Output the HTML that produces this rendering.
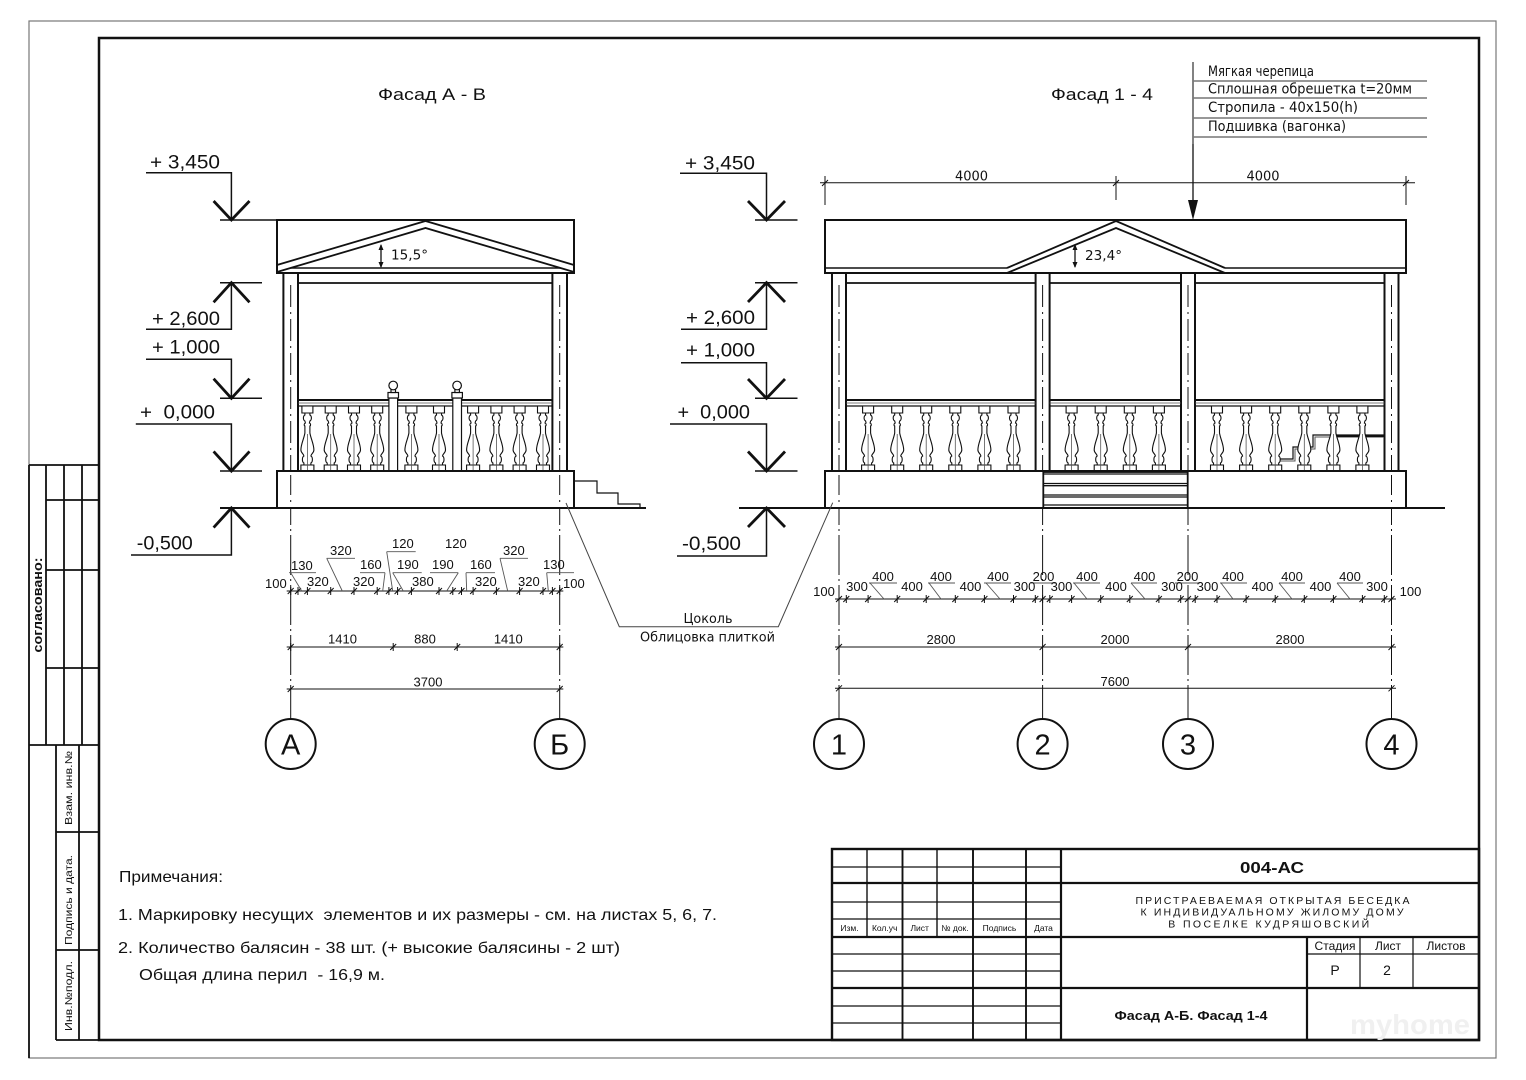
<!DOCTYPE html>
<html><head><meta charset="utf-8"><style>
html,body{margin:0;padding:0;background:#fff;}
svg{display:block;}
text{font-family:"Liberation Sans","DejaVu Sans",sans-serif;fill:#111;}
.v{font-family:"DejaVu Sans","Liberation Sans",sans-serif;}
</style></head><body>
<svg width="1526" height="1080" viewBox="0 0 1526 1080" xmlns="http://www.w3.org/2000/svg">
<defs>
<g id="bal">
<path d="M5.5,0 V7 H2.5 V9 C4.5,10 4.5,14 2.5,15 L2,17 C3.5,17.5 3.5,19.5 2.5,20 L2.5,27 C3.5,33 6.5,38 6.5,44 C6.5,47 3.5,48 3.5,50 C5.5,51 5.5,56 3.5,57 L3.5,59 H6.5 V65 H-6.5 V59 H-3.5 L-3.5,57 C-5.5,56 -5.5,51 -3.5,50 C-3.5,48 -6.5,47 -6.5,44 C-6.5,38 -3.5,33 -2.5,27 L-2.5,20 C-3.5,19.5 -3.5,17.5 -2,17 L-2.5,15 C-4.5,14 -4.5,10 -2.5,9 V7 H-5.5 V0 Z" fill="#fff" stroke="#111" stroke-width="1.1"/>
<path d="M-5.5,7H5.5M-6.5,59H6.5" fill="none" stroke="#111" stroke-width="1"/>
<path d="M0,28V70" fill="none" stroke="#555" stroke-width="0.8"/>
</g>
</defs>
<rect x="0" y="0" width="1526" height="1080" fill="#fff"/>

<!-- frames -->
<rect x="29" y="21" width="1467" height="1037" fill="none" stroke="#777" stroke-width="1.2"/>
<rect x="99" y="38" width="1380" height="1002" fill="none" stroke="#111" stroke-width="2.5"/>

<!-- left strip -->
<g stroke="#111" stroke-width="1.8" fill="none">
<path d="M29,465H99M29,745H99M46,465V745M64,465V745M82,465V745M46,500H99M46,570H99M46,668H99"/>
<path d="M56,745V1040M79,745V1040M56,832H99M56,950H99M56,1040H99M29,465V1058"/>
</g>
<text transform="translate(42,605) rotate(-90)" text-anchor="middle" font-size="13" font-weight="bold" textLength="95" lengthAdjust="spacingAndGlyphs">согласовано:</text>
<text transform="translate(72,788) rotate(-90)" text-anchor="middle" font-size="10" textLength="74" lengthAdjust="spacingAndGlyphs">Взам. инв.№</text>
<text transform="translate(72,900) rotate(-90)" text-anchor="middle" font-size="10" textLength="90" lengthAdjust="spacingAndGlyphs">Подпись и дата.</text>
<text transform="translate(72,996) rotate(-90)" text-anchor="middle" font-size="10" textLength="70" lengthAdjust="spacingAndGlyphs">Инв.№подл.</text>

<!-- titles -->
<text x="378" y="100" font-size="17" textLength="108" lengthAdjust="spacingAndGlyphs">Фасад А - В</text>
<text x="1051" y="100" font-size="17" textLength="102" lengthAdjust="spacingAndGlyphs">Фасад 1 - 4</text>

<!-- ========== LEFT FACADE ========== -->
<g stroke="#111" fill="none">
<path d="M290.7,285V719M559.7,285V719" stroke-width="1" stroke-dasharray="40,4,2,4"/>
<rect x="277" y="220" width="297" height="53" stroke-width="2"/>
<polyline points="277,265 425.5,221 574,265" stroke-width="1.8"/>
<polyline points="277,272 425.5,228 574,272" stroke-width="1.8"/>
<line x1="290.5" y1="268" x2="560.5" y2="268" stroke-width="1.5"/>
<rect x="283.4" y="273" width="14.6" height="198" stroke-width="2" fill="#fff"/>
<rect x="552.4" y="273" width="14.6" height="198" stroke-width="2" fill="#fff"/>
<path d="M290.7,285V505M559.7,285V505" stroke-width="1" stroke-dasharray="22,5,2,5"/>
<line x1="298" y1="283" x2="552.4" y2="283" stroke-width="1.8"/>
<line x1="298" y1="400" x2="552.4" y2="400" stroke-width="2"/>
<line x1="298" y1="403" x2="552.4" y2="403" stroke-width="0.8" stroke="#555"/>
<line x1="298" y1="406" x2="552.4" y2="406" stroke-width="1.2"/>
</g>
<use href="#bal" x="307.4" y="406"/><use href="#bal" x="330.7" y="406"/><use href="#bal" x="354" y="406"/><use href="#bal" x="377.2" y="406"/>
<use href="#bal" x="411.4" y="406"/><use href="#bal" x="439" y="406"/>
<use href="#bal" x="473.1" y="406"/><use href="#bal" x="496.4" y="406"/><use href="#bal" x="519.6" y="406"/><use href="#bal" x="543" y="406"/>
<g stroke="#111" stroke-width="1.2" fill="#fff">
<rect x="388.9" y="398" width="8.7" height="73"/>
<rect x="388" y="392.5" width="10.5" height="5.5"/>
<rect x="391" y="389.5" width="4.5" height="3"/>
<circle cx="393.2" cy="385.5" r="4.3"/>
<rect x="452.8" y="398" width="8.7" height="73"/>
<rect x="451.9" y="392.5" width="10.5" height="5.5"/>
<rect x="454.9" y="389.5" width="4.5" height="3"/>
<circle cx="457.1" cy="385.5" r="4.3"/>
</g>
<g stroke="#111" fill="none">
<rect x="277" y="471" width="297" height="37" stroke-width="2" fill="#fff"/>
<path d="M290.7,475V505M559.7,475V505" stroke-width="1" stroke-dasharray="20,5,2,5"/>
<line x1="220" y1="508" x2="646" y2="508" stroke-width="2"/>
<polyline points="574,481 597,481 597,493 618,493 618,504 640,504 640,508" stroke-width="1.2"/>
<line x1="381" y1="245" x2="381" y2="267" stroke-width="1.3"/>
<path d="M378.5,250L381,244L383.5,250ZM378.5,262L381,268L383.5,262Z" fill="#111" stroke="none"/>
</g>
<text class="v" x="391" y="259.5" font-size="13" textLength="37" lengthAdjust="spacingAndGlyphs">15,5°</text>

<!-- left level marks -->
<g stroke="#111" fill="none" stroke-width="1.5">
<path d="M146,172.7H231.4V220M220,220H277"/>
<path d="M220,282.7H262M231.4,282.7V329.3H146"/>
<path d="M146,359.3H231.4V398.3M220,398.3H262"/>
<path d="M135.8,424H231.4V471M220,471H262"/>
<path d="M231.4,508V555H131"/>
</g>
<g stroke="#111" fill="none" stroke-width="2.8">
<polyline points="213.6,201 231.4,220 249.5,201"/>
<polyline points="213.6,302.3 231.4,282.7 249.5,302.3"/>
<polyline points="213.6,378.7 231.4,398.3 249.5,378.7"/>
<polyline points="213.6,451.4 231.4,471 249.5,451.4"/>
<polyline points="213.6,527.6 231.4,508 249.5,527.6"/>
</g>
<text x="150" y="168.3" font-size="19" textLength="70" lengthAdjust="spacingAndGlyphs">+ 3,450</text>
<text x="152" y="325" font-size="19" textLength="68" lengthAdjust="spacingAndGlyphs">+ 2,600</text>
<text x="152" y="353.3" font-size="19" textLength="68" lengthAdjust="spacingAndGlyphs">+ 1,000</text>
<text x="140" y="418.3" font-size="19" textLength="75" lengthAdjust="spacingAndGlyphs" style="white-space:pre">+  0,000</text>
<text x="136.8" y="549.3" font-size="19" textLength="56" lengthAdjust="spacingAndGlyphs">-0,500</text>

<!-- ========== RIGHT FACADE ========== -->
<g stroke="#111" fill="none">
<path d="M839,285V719M1042.6,285V719M1188,285V719M1391.5,285V719" stroke-width="1" stroke-dasharray="40,4,2,4"/>
<line x1="820" y1="182.7" x2="1415" y2="182.7" stroke-width="1"/>
<path d="M825,176V205M1116,176V200M1406,176V205" stroke-width="1"/>
<path d="M825,179V187M822,186L828,180M1116,179V187M1113,186L1119,180M1406,179V187M1403,186L1409,180" stroke-width="1"/>
<line x1="1193" y1="62" x2="1193" y2="205" stroke-width="1.3"/>
<path d="M1193,62V144" stroke="#666" stroke-width="1.3"/>
<path d="M1193,81H1427M1193,98H1427M1193,118H1427M1193,137H1427" stroke="#777" stroke-width="1.4"/>
<rect x="825" y="220" width="581" height="53" stroke-width="2"/>
<path d="M825,268H1007M1225,268H1406" stroke-width="1.5"/>
<polyline points="1007,268 1116,221 1225,268" stroke-width="1.8"/>
<polyline points="1007,273 1116,228 1225,273" stroke-width="1.8"/>
<rect x="832" y="273" width="14" height="198" stroke-width="2" fill="#fff"/>
<rect x="1035.6" y="273" width="14" height="198" stroke-width="2" fill="#fff"/>
<rect x="1181" y="273" width="14" height="198" stroke-width="2" fill="#fff"/>
<rect x="1384.5" y="273" width="14" height="198" stroke-width="2" fill="#fff"/>
<path d="M839,285V505M1042.6,285V505M1188,285V505M1391.5,285V505" stroke-width="1" stroke-dasharray="22,5,2,5"/>
<path d="M846,283H1035.6M1049.6,283H1181M1195,283H1384.5" stroke-width="1.8"/>
<path d="M846,400H1035.6M1049.6,400H1181M1195,400H1384.5" stroke-width="2"/>
<path d="M846,403H1035.6M1049.6,403H1181M1195,403H1384.5" stroke-width="0.8" stroke="#555"/>
<path d="M846,406H1035.6M1049.6,406H1181M1195,406H1384.5" stroke-width="1.2"/>
<polyline points="1280,459 1293,459 1293,447 1313,447 1313,435 1384,435" stroke-width="1.2"/>
<polyline points="1280,461 1295,461 1295,449 1315,449 1315,437 1384,437" stroke-width="1" stroke="#555"/>
<line x1="1337" y1="436" x2="1384" y2="436" stroke-width="2.2"/>
</g>
<use href="#bal" x="868.1" y="406"/><use href="#bal" x="897.2" y="406"/><use href="#bal" x="926.2" y="406"/><use href="#bal" x="955.3" y="406"/><use href="#bal" x="984.4" y="406"/><use href="#bal" x="1013.5" y="406"/>
<use href="#bal" x="1071.6" y="406"/><use href="#bal" x="1100.7" y="406"/><use href="#bal" x="1129.8" y="406"/><use href="#bal" x="1158.9" y="406"/>
<use href="#bal" x="1217" y="406"/><use href="#bal" x="1246.1" y="406"/><use href="#bal" x="1275.2" y="406"/><use href="#bal" x="1304.3" y="406"/><use href="#bal" x="1333.4" y="406"/><use href="#bal" x="1362.4" y="406"/>
<g stroke="#111" fill="none">
<rect x="825" y="471" width="581" height="37" stroke-width="2" fill="#fff"/>
<path d="M839,475V505M1391.5,475V505" stroke-width="1" stroke-dasharray="20,5,2,5"/>
<rect x="1043.3" y="472" width="144.4" height="36" stroke-width="1.8" fill="#fff"/>
<path d="M1043.3,474H1187.7M1043.3,483.5H1187.7M1043.3,485.7H1187.7M1043.3,495H1187.7M1043.3,497H1187.7M1043.3,505H1187.7" stroke-width="1.3"/>
<line x1="739" y1="508" x2="1445" y2="508" stroke-width="2"/>
<line x1="1075" y1="245" x2="1075" y2="267" stroke-width="1.3"/>
<path d="M1072.5,250L1075,244L1077.5,250ZM1072.5,262L1075,268L1077.5,262Z" fill="#111" stroke="none"/>
</g>
<path d="M1188,200H1198L1193,220Z" fill="#111"/>
<text class="v" x="1085" y="260" font-size="13" textLength="37" lengthAdjust="spacingAndGlyphs">23,4°</text>
<text class="v" x="971.5" y="180.7" font-size="13" text-anchor="middle">4000</text>
<text class="v" x="1263" y="180.7" font-size="13" text-anchor="middle">4000</text>
<text class="v" x="1208" y="76" font-size="14" textLength="106" lengthAdjust="spacingAndGlyphs">Мягкая черепица</text>
<text class="v" x="1208" y="93.5" font-size="14" textLength="204" lengthAdjust="spacingAndGlyphs">Сплошная обрешетка t=20мм</text>
<text class="v" x="1208" y="112" font-size="14" textLength="150" lengthAdjust="spacingAndGlyphs">Стропила - 40x150(h)</text>
<text class="v" x="1208" y="131" font-size="14" textLength="138" lengthAdjust="spacingAndGlyphs">Подшивка (вагонка)</text>

<!-- right level marks -->
<g stroke="#111" fill="none" stroke-width="1.5">
<path d="M680,173.3H766.5V220M755,220H797.5"/>
<path d="M755,282.7H797.5M766.5,282.7V329.3H681"/>
<path d="M681,362.7H766.5V398.3M755,398.3H797.5"/>
<path d="M670,424H766.5V471M755,471H797.5"/>
<path d="M766.5,508V556H677"/>
</g>
<g stroke="#111" fill="none" stroke-width="2.8">
<polyline points="748,201 766.5,220 785,201"/>
<polyline points="748,302 766.5,282.7 785,302"/>
<polyline points="748,379 766.5,398.3 785,379"/>
<polyline points="748,451.5 766.5,471 785,451.5"/>
<polyline points="748,527 766.5,508 785,527"/>
</g>
<text x="685" y="169.3" font-size="19" textLength="70" lengthAdjust="spacingAndGlyphs">+ 3,450</text>
<text x="686" y="324" font-size="19" textLength="69" lengthAdjust="spacingAndGlyphs">+ 2,600</text>
<text x="686" y="356.7" font-size="19" textLength="69" lengthAdjust="spacingAndGlyphs">+ 1,000</text>
<text x="677.5" y="418.3" font-size="19" textLength="72.5" lengthAdjust="spacingAndGlyphs" style="white-space:pre">+  0,000</text>
<text x="682" y="550" font-size="19" textLength="59" lengthAdjust="spacingAndGlyphs">-0,500</text>

<!-- Цоколь leader -->
<polyline points="566,503 619.3,626.7 778.3,626.7 832.7,502.7" fill="none" stroke="#444" stroke-width="1"/>
<text class="v" x="708" y="623" font-size="13.5" text-anchor="middle" textLength="49" lengthAdjust="spacingAndGlyphs">Цоколь</text>
<text class="v" x="707.5" y="641.7" font-size="13.5" text-anchor="middle" textLength="135" lengthAdjust="spacingAndGlyphs">Облицовка плиткой</text>

<!-- ========== LEFT DIMENSIONS ========== -->
<g stroke="#111" fill="none" stroke-width="1">
<path d="M286.7,591H563.3M286.7,647H563.3M286.7,689H563.3"/>
<path d="M290.7,587V595M287.7,594L293.7,588M298,587V595M295,594L301,588M307.4,587V595M304.4,594L310.4,588M330.7,587V595M327.7,594L333.7,588M354,587V595M351,594L357,588M377.2,587V595M374.2,594L380.2,588M388.9,587V595M385.9,594L391.9,588M397.6,587V595M394.6,594L400.6,588M411.4,587V595M408.4,594L414.4,588M439,587V595M436,594L442,588M452.8,587V595M449.8,594L455.8,588M461.5,587V595M458.5,594L464.5,588M473.1,587V595M470.1,594L476.1,588M496.4,587V595M493.4,594L499.4,588M519.6,587V595M516.6,594L522.6,588M543,587V595M540,594L546,588M552.4,587V595M549.4,594L555.4,588M559.7,587V595M556.7,594L562.7,588"/>
<path d="M290.7,643V651M287.7,650L293.7,644M393.2,643V651M390.2,650L396.2,644M457.2,643V651M454.2,650L460.2,644M559.7,643V651M556.7,650L562.7,644"/>
<path d="M287.7,692L293.7,686M556.7,692L562.7,686"/>
</g>
<g stroke="#555" fill="none" stroke-width="0.9">
<path d="M289,572.7H316M290.7,572.7L301.7,591"/>
<path d="M326.7,558.3H355M326.7,558.3L342.3,591"/>
<path d="M360,572.7H385M385,572.7L382.7,591"/>
<path d="M386.7,551.7H415.7M386.7,551.7L392.7,591"/>
<path d="M392.7,572.7H421.7M392.7,572.7L403.3,591"/>
<path d="M430,572.7H458.3M458.3,572.7L446.7,591"/>
<path d="M466,572.7H495M466,572.7L466.7,591"/>
<path d="M500,558.3H528M500,558.3L507.7,591"/>
<path d="M546.7,572.7H574M546.7,572.7L548.3,591"/>
</g>
<g class="v" font-size="13" font-family="DejaVu Sans, sans-serif">
<text x="265" y="588">100</text>
<text x="291" y="570">130</text>
<text x="307" y="586">320</text>
<text x="330" y="555">320</text>
<text x="360" y="569">160</text>
<text x="353" y="586">320</text>
<text x="392" y="548">120</text>
<text x="397" y="569">190</text>
<text x="412" y="586">380</text>
<text x="432" y="569">190</text>
<text x="445" y="548">120</text>
<text x="470" y="569">160</text>
<text x="475" y="586">320</text>
<text x="503" y="555">320</text>
<text x="518" y="586">320</text>
<text x="543" y="569">130</text>
<text x="563" y="588">100</text>
<text x="342.5" y="643.3" text-anchor="middle">1410</text>
<text x="425" y="643.3" text-anchor="middle">880</text>
<text x="508.3" y="643.3" text-anchor="middle">1410</text>
<text x="428" y="686.7" text-anchor="middle">3700</text>
</g>

<!-- ========== RIGHT DIMENSIONS ========== -->
<g stroke="#111" fill="none" stroke-width="1">
<path d="M835,599H1396M835,647H1396M835,688.3H1396"/>
<path d="M839,595V603M836,602L842,596M846.3,595V603M843.3,602L849.3,596M868.1,595V603M865.1,602L871.1,596M897.2,595V603M894.2,602L900.2,596M926.2,595V603M923.2,602L929.2,596M955.3,595V603M952.3,602L958.3,596M984.4,595V603M981.4,602L987.4,596M1013.5,595V603M1010.5,602L1016.5,596M1035.3,595V603M1032.3,602L1038.3,596M1042.6,595V603M1039.6,602L1045.6,596M1049.8,595V603M1046.8,602L1052.8,596M1071.6,595V603M1068.6,602L1074.6,596M1100.7,595V603M1097.7,602L1103.7,596M1129.8,595V603M1126.8,602L1132.8,596M1158.9,595V603M1155.9,602L1161.9,596M1180.7,595V603M1177.7,602L1183.7,596M1188,595V603M1185,602L1191,596M1195.2,595V603M1192.2,602L1198.2,596M1217,595V603M1214,602L1220,596M1246.1,595V603M1243.1,602L1249.1,596M1275.2,595V603M1272.2,602L1278.2,596M1304.3,595V603M1301.3,602L1307.3,596M1333.4,595V603M1330.4,602L1336.4,596M1362.4,595V603M1359.4,602L1365.4,596M1384.3,595V603M1381.3,602L1387.3,596M1391.5,595V603M1388.5,602L1394.5,596"/>
<path d="M836,650L842,644M1039.6,650L1045.6,644M1185,650L1191,644M1388.5,650L1394.5,644"/>
<path d="M836,691.3L842,685.3M1388.5,691.3L1394.5,685.3"/>
</g>
<g stroke="#555" fill="none" stroke-width="0.9">
<path d="M869,583H897M870,583L884,599"/>
<path d="M928,583H955M929,583L941,599"/>
<path d="M984,583H1011M986,583L1000,599"/>
<path d="M1031,583H1056"/>
<path d="M1073,583H1100M1074,583L1087,599"/>
<path d="M1131,583H1157M1131,583L1145,599"/>
<path d="M1175,583H1200"/>
<path d="M1220,583H1247M1221,583L1233,599"/>
<path d="M1279,583H1305M1279,583L1292,599"/>
<path d="M1337,583H1363M1337,583L1350,599"/>
</g>
<g class="v" font-size="13" font-family="DejaVu Sans, sans-serif" text-anchor="middle">
<text x="824" y="596">100</text>
<text x="857" y="591">300</text>
<text x="883" y="581">400</text>
<text x="912" y="591">400</text>
<text x="941" y="581">400</text>
<text x="970.5" y="591">400</text>
<text x="998" y="581">400</text>
<text x="1024.5" y="591">300</text>
<text x="1043.5" y="581">200</text>
<text x="1061.5" y="591">300</text>
<text x="1087" y="581">400</text>
<text x="1116" y="591">400</text>
<text x="1144.5" y="581">400</text>
<text x="1172" y="591">300</text>
<text x="1187.5" y="581">200</text>
<text x="1207.5" y="591">300</text>
<text x="1233" y="581">400</text>
<text x="1262.5" y="591">400</text>
<text x="1292" y="581">400</text>
<text x="1320.5" y="591">400</text>
<text x="1350" y="581">400</text>
<text x="1377" y="591">300</text>
<text x="1410.5" y="596">100</text>
<text x="941" y="644">2800</text>
<text x="1115" y="644">2000</text>
<text x="1290" y="644">2800</text>
<text x="1115" y="686">7600</text>
</g>

<!-- axis circles -->
<g stroke="#111" stroke-width="2" fill="#fff">
<circle cx="290.7" cy="744" r="25"/>
<circle cx="559.7" cy="744" r="25"/>
<circle cx="839" cy="744" r="25"/>
<circle cx="1042.6" cy="744" r="25"/>
<circle cx="1188" cy="744" r="25"/>
<circle cx="1391.5" cy="744" r="25"/>
</g>
<g font-size="29" text-anchor="middle">
<text x="290.7" y="754.5">А</text>
<text x="559.7" y="754.5">Б</text>
<text x="839" y="754.5">1</text>
<text x="1042.6" y="754.5">2</text>
<text x="1188" y="754.5">3</text>
<text x="1391.5" y="754.5">4</text>
</g>

<!-- notes -->
<text x="119" y="882" font-size="16" textLength="104" lengthAdjust="spacingAndGlyphs">Примечания:</text>
<text x="118" y="920" font-size="16" textLength="599" lengthAdjust="spacingAndGlyphs" style="white-space:pre">1. Маркировку несущих  элементов и их размеры - см. на листах 5, 6, 7.</text>
<text x="118" y="953" font-size="16" textLength="502" lengthAdjust="spacingAndGlyphs">2. Количество балясин - 38 шт. (+ высокие балясины - 2 шт)</text>
<text x="139" y="980" font-size="16" textLength="246" lengthAdjust="spacingAndGlyphs" style="white-space:pre">Общая длина перил  - 16,9 м.</text>

<!-- title block -->
<g stroke="#111" fill="none">
<rect x="832" y="849" width="647" height="191" stroke-width="2.4"/>
<path d="M1061,883H1479M832,937H1479M832,988H1479M1061,849V1040M1307,937V1040M832,883H1061" stroke-width="2.2"/>
<path d="M832,867H1061M832,902H1061M832,919H1061M832,954H1061M832,971H1061M832,1006H1061M832,1023H1061M1307,954H1479" stroke-width="1.2"/>
<path d="M867,849V937M937,849V937" stroke-width="1.4"/>
<path d="M902.5,849V1040M973,849V1040M1026,849V1040" stroke-width="1.9"/>
<path d="M1360,937V988M1413,937V988" stroke-width="1.2"/>
</g>
<g font-size="8.5" text-anchor="middle">
<text x="849.5" y="931">Изм.</text>
<text x="884.7" y="931">Кол.уч</text>
<text x="919.7" y="931">Лист</text>
<text x="955" y="931">№ док.</text>
<text x="999.5" y="931">Подпись</text>
<text x="1043.5" y="931">Дата</text>
</g>
<text x="1272" y="873" font-size="16" font-weight="bold" text-anchor="middle" textLength="64" lengthAdjust="spacingAndGlyphs">004-АС</text>
<text x="1272.5" y="904" font-size="10.5" text-anchor="middle" textLength="274" lengthAdjust="spacing">ПРИСТРАЕВАЕМАЯ ОТКРЫТАЯ БЕСЕДКА</text>
<text x="1272" y="915.7" font-size="10.5" text-anchor="middle" textLength="263" lengthAdjust="spacing">К ИНДИВИДУАЛЬНОМУ ЖИЛОМУ ДОМУ</text>
<text x="1268.7" y="927.5" font-size="10.5" text-anchor="middle" textLength="201" lengthAdjust="spacing">В ПОСЕЛКЕ КУДРЯШОВСКИЙ</text>
<g font-size="12" text-anchor="middle">
<text x="1335" y="950">Стадия</text>
<text x="1388" y="950">Лист</text>
<text x="1446" y="950">Листов</text>
</g>
<text x="1335" y="975" font-size="14" text-anchor="middle">Р</text>
<text x="1387" y="975" font-size="14" text-anchor="middle">2</text>
<text x="1191" y="1020" font-size="13" font-weight="bold" text-anchor="middle" textLength="153" lengthAdjust="spacingAndGlyphs">Фасад А-Б. Фасад 1-4</text>
<text x="1350" y="1034" font-size="28" font-weight="bold" style="fill:#f0f0f0" textLength="120" lengthAdjust="spacingAndGlyphs">myhome</text>
</svg>
</body></html>
